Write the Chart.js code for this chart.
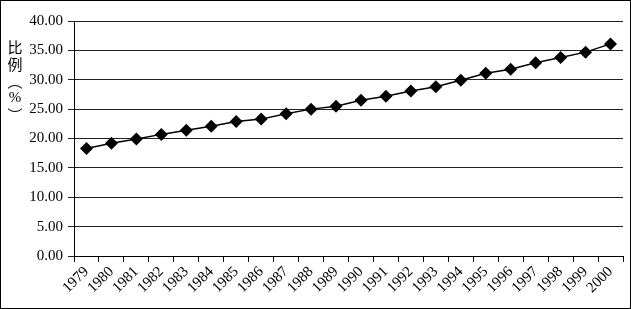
<!DOCTYPE html>
<html>
<head>
<meta charset="utf-8">
<script src="https://cdn.jsdelivr.net/npm/chart.js@4"></script>
<style>
  html, body { margin: 0; padding: 0; background: #fff; }
  #wrap { width: 631px; height: 309px; box-sizing: border-box; border: 1px solid #000; }
</style>
</head>
<body>
<div id="wrap"><canvas id="ratioChart" width="629" height="307"></canvas></div>
<script>
// years on the x axis
const years = ['1979', '1980', '1981', '1982', '1983', '1984', '1985', '1986', '1987', '1988', '1989',
    '1990', '1991', '1992', '1993', '1994', '1995', '1996', '1997', '1998', '1999', '2000'];
// share in percent
const ratio = [18.3, 19.2, 19.9, 20.7, 21.4, 22.1, 22.9, 23.3, 24.2, 25.0, 25.5,
    26.5, 27.2, 28.1, 28.8, 29.9, 31.1, 31.8, 32.9, 33.8, 34.7, 36.1];
const yTitleChars = ['比', '例', '︵', '%', '︶'];

const serif = '"Liberation Serif", "Times New Roman", serif';

// vertical stacked axis title
const verticalTitle = {
    id: 'verticalTitle',
    afterDraw(chart) {
        const ctx = chart.ctx;
        ctx.save();
        ctx.fillStyle = '#000';
        ctx.textAlign = 'center';
        ctx.textBaseline = 'middle';
        yTitleChars.forEach((ch, i) => {
            ctx.font = ch === '%' ? '15px ' + serif : '15px "Noto Sans CJK SC"';
            ctx.fillText(ch, 14, 46 + i * 17);
        });
        ctx.restore();
    }
};

const ctxRatio = document.getElementById('ratioChart').getContext('2d');
const ratioChart = new Chart(ctxRatio, {
    type: 'line',
    data: {
        labels: years,
        datasets: [{
            data: ratio,
            borderColor: '#000',
            borderWidth: 1.5,
            backgroundColor: '#000',
            pointStyle: 'rectRot',
            pointRadius: 6.5,
            pointBackgroundColor: '#000',
            pointBorderColor: '#000',
            pointBorderWidth: 0,
            tension: 0
        }]
    },
    options: {
        responsive: false,
        animation: false,
        layout: { padding: { top: 20, right: 7, bottom: 0, left: 0 } },
        plugins: { legend: { display: false }, tooltip: { enabled: false } },
        scales: {
            x: {
                offset: true,
                grid: { offset: true, drawOnChartArea: false, color: '#000', tickLength: 6 },
                border: { color: '#000', width: 1 },
                ticks: {
                    color: '#000',
                    font: { family: serif, size: 15 },
                    minRotation: 45,
                    maxRotation: 45,
                    autoSkip: false,
                    padding: 1
                },
                afterFit(scale) { scale.height = 52; }
            },
            y: {
                min: 0,
                max: 40,
                grid: { color: '#222', tickLength: 6 },
                border: { color: '#000', width: 1 },
                ticks: {
                    stepSize: 5,
                    color: '#000',
                    font: { family: serif, size: 15 },
                    padding: 5,
                    callback: v => v.toFixed(2)
                },
                afterFit(scale) { scale.width = 73; }
            }
        }
    },
    plugins: [verticalTitle]
});
</script>
</body>
</html>
